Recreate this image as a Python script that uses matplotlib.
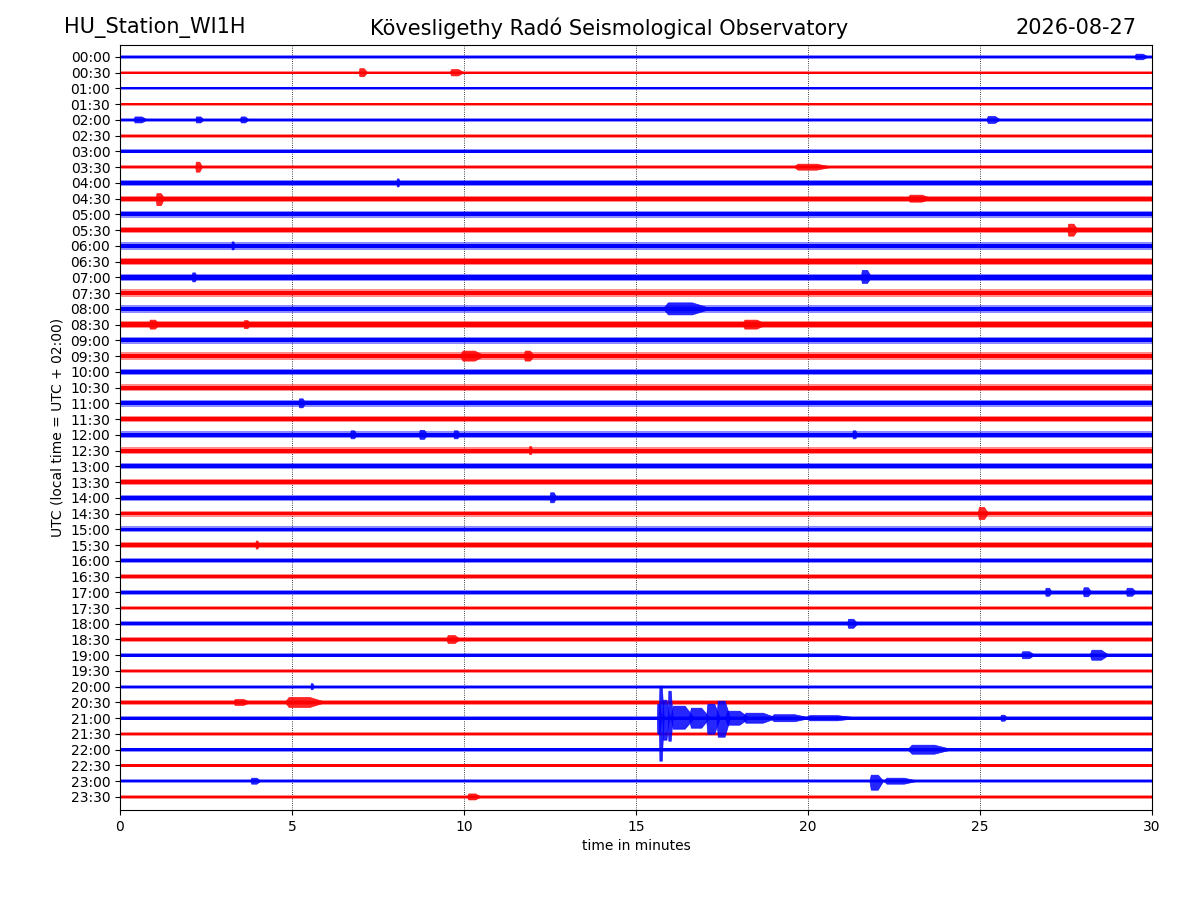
import matplotlib
matplotlib.use("Agg")
import matplotlib.pyplot as plt

station = "HU_Station_WI1H"
observatory = "Kövesligethy Radó Seismological Observatory"
day = "2026-08-27"

# one helicorder line per half hour
row_labels = ["%02d:%02d" % (h, m) for h in range(24) for m in (0, 30)]

# background noise half-amplitude of each line (arbitrary counts)
base_amp = [1.2, 1.3, 1.3, 1.3, 1.5, 1.4, 1.5, 1.6,
            2.0, 2.3, 2.5, 2.5, 2.8, 2.7, 2.7, 2.8,
            2.8, 2.8, 2.5, 2.8, 2.4, 2.5, 2.5, 2.5,
            2.8, 2.5, 2.3, 2.4, 2.3, 2.3, 2.2, 2.2,
            2.0, 2.0, 2.0, 1.7, 1.9, 1.8, 1.7, 1.6,
            1.5, 1.6, 1.7, 1.5, 1.6, 1.4, 1.5, 1.5]

# bursts read from the record: line, start min, end min, amplitude up, amplitude down
ev_row = ["00:00", "00:30", "00:30", "02:00", "02:00", "02:00", "02:00",
          "03:30", "03:30", "04:00", "04:30", "04:30", "05:30", "06:00",
          "07:00", "07:00", "08:00", "08:30", "08:30", "08:30", "09:30", "09:30",
          "11:00", "12:00", "12:00", "12:00", "12:00", "12:30", "14:00", "14:30",
          "15:30", "17:00", "17:00", "17:00", "18:00", "18:30", "19:00", "19:00",
          "20:00", "20:30", "20:30",
          "21:00", "21:00", "21:00", "21:00", "21:00", "21:00", "21:00",
          "21:00", "21:00", "21:00", "21:00", "21:00", "21:00",
          "22:00", "23:00", "23:00", "23:00", "23:30"]
ev_start = [29.5, 6.95, 9.6, 0.4, 2.2, 3.5, 25.2,
            2.2, 19.6, 8.05, 1.05, 22.9, 27.55, 3.25,
            2.1, 21.55, 15.8, 0.85, 3.6, 18.1, 9.9, 11.75,
            5.2, 6.7, 8.7, 9.7, 21.3, 11.9, 12.5, 24.95,
            3.95, 26.9, 28.0, 29.25, 21.15, 9.5, 26.2, 28.2,
            5.55, 3.3, 4.8,
            15.62, 15.68, 15.78, 15.94, 16.02, 16.55, 17.05,
            17.35, 17.6, 18.1, 18.9, 19.9, 25.6,
            22.9, 3.8, 21.8, 22.2, 10.1]
ev_end = [29.9, 7.2, 10.0, 0.8, 2.45, 3.75, 25.6,
          2.4, 20.7, 8.15, 1.3, 23.6, 27.85, 3.35,
          2.25, 21.85, 17.2, 1.15, 3.8, 18.8, 10.6, 12.05,
          5.4, 6.9, 8.95, 9.9, 21.45, 12.0, 12.7, 25.25,
          4.05, 27.1, 28.25, 29.55, 21.45, 9.9, 26.6, 28.75,
          5.65, 3.8, 6.0,
          15.75, 15.82, 15.98, 16.08, 16.7, 17.15, 17.45,
          17.75, 18.3, 19.1, 20.1, 21.5, 25.8,
          24.2, 4.1, 22.2, 23.2, 10.5]
ev_up = [2.8, 4.0, 3.2, 3.0, 3.0, 3.0, 3.5,
         5.0, 3.0, 4.0, 5.0, 3.5, 6.0, 4.0,
         4.5, 7.0, 6.0, 4.5, 4.0, 4.5, 5.0, 5.0,
         4.5, 4.0, 4.5, 4.0, 4.0, 4.0, 5.0, 6.0,
         4.0, 4.0, 4.5, 4.0, 4.5, 4.0, 3.5, 5.0,
         3.0, 3.0, 5.0,
         14.0, 32.0, 18.0, 27.0, 12.0, 10.0, 14.0,
         17.0, 7.0, 5.0, 3.5, 2.6, 3.0,
         4.5, 3.0, 6.0, 3.0, 3.0]
ev_down = [2.8, 4.0, 3.2, 3.0, 3.0, 3.0, 3.5,
           5.0, 3.0, 4.0, 7.0, 3.5, 6.0, 4.0,
           4.5, 6.0, 6.0, 4.5, 4.0, 4.5, 5.0, 5.0,
           4.5, 4.0, 4.5, 4.0, 4.0, 4.0, 5.0, 6.0,
           4.0, 4.0, 4.5, 4.0, 4.5, 4.0, 3.5, 5.0,
           3.0, 3.0, 5.0,
           16.0, 43.0, 22.0, 23.0, 11.0, 10.0, 16.0,
           19.0, 7.0, 5.0, 3.5, 2.6, 3.0,
           4.5, 3.0, 9.0, 3.0, 3.0]

colors = ["#0000ff", "#ff0000"]
scale = 1 / 15.74  # counts -> line spacing

fig = plt.figure(figsize=(12, 9), dpi=100)
ax = fig.add_axes([0.1, 0.1, 0.86, 0.85])

for i, lab in enumerate(row_labels):
    c = colors[i % 2]
    a = base_amp[i] * scale
    # noise band: light fringe + dense core
    ax.fill_between([0, 30], i - a * 1.3, i + a * 1.3, color=c, alpha=0.45, lw=0)
    ax.fill_between([0, 30], i - a * 0.8, i + a * 0.8, color=c, lw=0)

# bursts: quick onset, plateau, taper
for r, s, e, a_u, a_d in zip(ev_row, ev_start, ev_end, ev_up, ev_down):
    i = row_labels.index(r)
    c = colors[i % 2]
    d = e - s
    xs = [s, s + 0.1 * d, s + 0.6 * d, e, s + 0.6 * d, s + 0.1 * d]
    ys = [i, i - a_u * scale, i - a_u * scale, i,
          i + a_d * scale, i + a_d * scale]
    ax.fill(xs, ys, color=c, lw=0.5, alpha=0.85)

ax.set_xlim(0, 30)
ax.set_ylim(47.83, -0.76)
ax.set_yticks(range(len(row_labels)))
ax.set_yticklabels(row_labels)
ax.set_xticks([0, 5, 10, 15, 20, 25, 30])
for xv in [5, 10, 15, 20, 25]:
    ax.axvline(xv, color="k", linestyle=":", lw=0.6, zorder=0)
ax.set_xlabel("time in minutes")
ax.set_ylabel("UTC (local time = UTC + 02:00)")

fig.text(0.053, 0.969, station, fontsize=15, ha="left", va="center")
fig.text(0.508, 0.969, observatory, fontsize=15, ha="center", va="center")
fig.text(0.947, 0.969, day, fontsize=15, ha="right", va="center")

fig.savefig("out.png", dpi=100)
